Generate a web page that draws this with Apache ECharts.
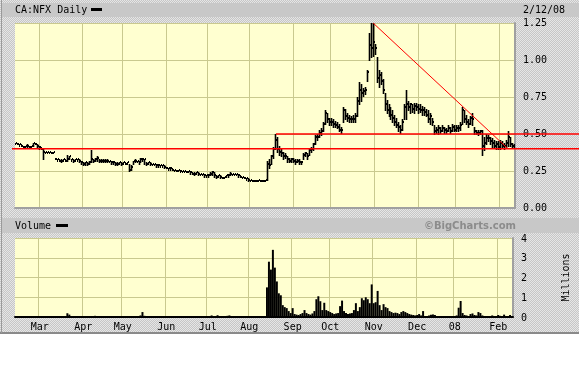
<!DOCTYPE html>
<html><head><meta charset="utf-8">
<script src="https://cdn.jsdelivr.net/npm/echarts/dist/echarts.min.js"></script>
<style>
html,body{margin:0;padding:0;background:#fff;}
#wrap{position:relative;width:579px;height:384px;}
#bg{position:absolute;left:0;top:0;width:579px;height:334px;
 background-color:#d6d6d6;
 background-image:conic-gradient(#c6c6c6 25%, #e6e6e6 0 50%, #c6c6c6 0 75%, #e6e6e6 0);
 background-size:2px 2px;}
#c{position:absolute;left:0;top:0;width:579px;height:384px;}
</style>
</head><body><div id="wrap"><div id="bg"></div><div id="c"></div></div>
<script>
// ---- data ----
const holidays = ['2007-04-06','2007-05-21','2007-07-02','2007-08-06','2007-09-03','2007-10-08','2007-12-25','2007-12-26','2008-01-01'];
const monthNames = {'01':'08','02':'Feb','03':'Mar','04':'Apr','05':'May','06':'Jun','07':'Jul','08':'Aug','09':'Sep','10':'Oct','11':'Nov','12':'Dec'};
const priceTicks = [0, 0.25, 0.5, 0.75, 1.0, 1.25];
const volumeTicks = [0, 1, 2, 3, 4];

const close = [
 0.44,0.43,0.43,0.42,0.41,0.42,0.42,0.41,0.42,0.44,0.43,0.42,
 0.41,0.40,0.38,0.38,0.38,0.38,0.37,0.38,0.33,0.33,0.32,0.32,0.33,0.32,0.33,0.35,0.33,0.32,0.33,0.33,0.32,0.31,
 0.30,0.31,0.30,0.31,0.33,0.32,0.33,0.34,0.32,0.32,0.32,0.32,0.32,0.32,0.31,0.31,0.30,0.30,0.31,0.30,
 0.31,0.30,0.31,0.26,0.28,0.32,0.32,0.32,0.31,0.33,0.33,0.33,0.30,0.31,0.30,0.30,0.30,0.29,0.29,0.29,0.29,0.28,
 0.27,0.27,0.27,0.26,0.26,0.25,0.26,0.25,0.25,0.25,0.24,0.25,0.24,0.23,0.23,0.24,0.23,0.23,0.23,0.22,0.22,
 0.22,0.23,0.24,0.22,0.21,0.22,0.21,0.20,0.21,0.22,0.22,0.23,0.23,0.23,0.23,0.22,0.21,0.21,0.20,0.20,0.19,
 0.19,0.18,0.18,0.18,0.19,0.18,0.18,0.18,0.19,0.30,0.29,0.35,0.40,0.46,0.40,0.38,0.37,0.35,0.35,0.33,0.32,0.33,
 0.32,0.31,0.32,0.31,0.31,0.36,0.37,0.35,0.39,0.40,0.43,0.48,0.48,0.51,0.52,0.57,0.64,0.60,0.58,
 0.58,0.57,0.56,0.55,0.53,0.53,0.66,0.62,0.61,0.60,0.60,0.60,0.62,0.72,0.80,0.78,0.79,0.80,0.92,1.10,1.08,1.12,
 1.08,0.88,0.90,0.86,0.80,0.70,0.66,0.64,0.63,0.61,0.58,0.56,0.55,0.53,0.58,0.68,0.70,0.68,0.70,0.67,0.69,0.68,
 0.67,0.66,0.66,0.65,0.63,0.60,0.62,0.58,0.52,0.53,0.54,0.52,0.54,0.53,0.52,0.54,0.52,0.55,0.53,
 0.54,0.54,0.56,0.66,0.60,0.58,0.57,0.61,0.60,0.52,0.51,0.51,0.52,0.42,0.44,0.47,0.47,0.45,0.44,0.42,0.43,0.41,
 0.44,0.42,0.42,0.44,0.48,0.43,0.42,0.42
];
const high = [
 0.44,0.44,0.43,0.43,0.42,0.42,0.43,0.42,0.42,0.44,0.44,0.43,
 0.42,0.41,0.40,0.38,0.38,0.38,0.38,0.38,0.34,0.33,0.33,0.33,0.33,0.33,0.36,0.35,0.33,0.33,0.33,0.33,0.33,0.32,
 0.31,0.31,0.31,0.32,0.39,0.33,0.34,0.35,0.33,0.33,0.33,0.33,0.33,0.32,0.32,0.32,0.31,0.31,0.31,0.31,
 0.31,0.31,0.31,0.30,0.29,0.32,0.33,0.32,0.32,0.34,0.34,0.33,0.31,0.31,0.31,0.30,0.30,0.30,0.30,0.29,0.29,0.29,
 0.28,0.27,0.28,0.27,0.26,0.26,0.26,0.26,0.25,0.25,0.25,0.25,0.25,0.24,0.24,0.24,0.24,0.23,0.23,0.23,0.22,
 0.23,0.24,0.25,0.24,0.22,0.22,0.22,0.21,0.21,0.22,0.23,0.24,0.23,0.23,0.23,0.23,0.22,0.21,0.21,0.20,0.20,
 0.19,0.19,0.19,0.19,0.19,0.19,0.19,0.19,0.19,0.32,0.33,0.36,0.41,0.50,0.48,0.42,0.40,0.38,0.37,0.35,0.34,0.34,
 0.34,0.33,0.33,0.33,0.32,0.37,0.38,0.37,0.40,0.41,0.44,0.49,0.50,0.53,0.54,0.58,0.66,0.64,0.61,
 0.61,0.60,0.59,0.58,0.57,0.55,0.68,0.67,0.64,0.63,0.62,0.63,0.64,0.75,0.85,0.84,0.81,0.82,0.93,1.18,1.25,1.25,
 1.11,1.02,0.93,0.92,0.87,0.78,0.73,0.70,0.68,0.66,0.63,0.61,0.58,0.56,0.60,0.70,0.80,0.72,0.71,0.70,0.71,0.71,
 0.70,0.70,0.69,0.68,0.67,0.66,0.64,0.61,0.56,0.55,0.56,0.55,0.56,0.55,0.54,0.56,0.55,0.57,0.56,
 0.56,0.56,0.58,0.68,0.66,0.63,0.60,0.62,0.64,0.55,0.53,0.53,0.53,0.53,0.48,0.50,0.49,0.48,0.47,0.46,0.45,0.45,
 0.46,0.45,0.44,0.46,0.52,0.48,0.44,0.43
];
const low = [
 0.43,0.43,0.42,0.42,0.41,0.41,0.41,0.41,0.41,0.42,0.43,0.41,
 0.40,0.40,0.33,0.37,0.37,0.37,0.37,0.37,0.33,0.32,0.32,0.31,0.32,0.32,0.32,0.33,0.32,0.31,0.32,0.32,0.31,0.30,
 0.29,0.29,0.29,0.30,0.31,0.31,0.32,0.32,0.31,0.31,0.31,0.31,0.31,0.31,0.30,0.30,0.29,0.29,0.30,0.29,
 0.30,0.30,0.30,0.25,0.26,0.30,0.31,0.31,0.30,0.31,0.32,0.30,0.29,0.30,0.29,0.29,0.29,0.28,0.28,0.28,0.28,0.27,
 0.27,0.26,0.26,0.26,0.25,0.25,0.25,0.24,0.24,0.24,0.24,0.24,0.23,0.23,0.22,0.23,0.22,0.22,0.22,0.21,0.21,
 0.21,0.22,0.22,0.21,0.20,0.21,0.20,0.20,0.20,0.21,0.21,0.22,0.22,0.22,0.22,0.21,0.21,0.20,0.20,0.19,0.18,
 0.18,0.18,0.18,0.18,0.18,0.18,0.18,0.18,0.18,0.19,0.27,0.30,0.34,0.40,0.38,0.36,0.35,0.33,0.34,0.31,0.31,0.31,
 0.31,0.30,0.31,0.30,0.30,0.33,0.35,0.33,0.36,0.38,0.39,0.43,0.46,0.48,0.49,0.52,0.57,0.58,0.56,
 0.56,0.55,0.55,0.54,0.52,0.51,0.58,0.60,0.59,0.58,0.58,0.58,0.58,0.62,0.70,0.72,0.76,0.77,0.86,1.00,1.02,1.03,
 1.04,0.85,0.82,0.84,0.78,0.66,0.64,0.62,0.60,0.58,0.56,0.55,0.52,0.51,0.53,0.60,0.60,0.66,0.64,0.65,0.64,0.66,
 0.64,0.65,0.63,0.63,0.62,0.58,0.57,0.56,0.50,0.51,0.50,0.51,0.52,0.51,0.51,0.52,0.51,0.52,0.52,
 0.52,0.52,0.53,0.57,0.58,0.57,0.55,0.57,0.56,0.50,0.50,0.49,0.50,0.36,0.39,0.43,0.45,0.43,0.41,0.41,0.40,0.40,
 0.40,0.41,0.40,0.41,0.42,0.42,0.41,0.41
];
const volume = [
 0.03,0.02,0.02,0.01,0.03,0.02,0.01,0.02,0.04,0.02,0.01,0.02,
 0.02,0.01,0.04,0.02,0.01,0.02,0.01,0.02,0.05,0.01,0.02,0.05,0.02,0.01,0.19,0.12,0.03,0.02,0.01,0.02,0.01,0.02,
 0.01,0.02,0.01,0.02,0.03,0.01,0.06,0.02,0.01,0.01,0.02,0.01,0.01,0.02,0.04,0.01,0.01,0.02,0.01,0.01,
 0.02,0.01,0.02,0.03,0.02,0.01,0.01,0.02,0.02,0.08,0.25,0.06,0.02,0.01,0.01,0.02,0.01,0.01,0.02,0.01,0.01,0.02,
 0.01,0.01,0.02,0.01,0.01,0.01,0.02,0.01,0.01,0.03,0.01,0.01,0.02,0.01,0.01,0.01,0.03,0.02,0.01,0.01,0.02,
 0.01,0.04,0.08,0.03,0.02,0.09,0.04,0.02,0.01,0.02,0.06,0.08,0.03,0.01,0.02,0.01,0.01,0.02,0.05,0.02,0.01,
 0.02,0.01,0.05,0.02,0.01,0.01,0.02,0.03,0.05,1.5,2.8,2.4,3.4,2.5,1.8,1.2,1.1,0.6,0.5,0.45,0.3,0.2,
 0.45,0.15,0.12,0.1,0.15,0.2,0.35,0.2,0.15,0.12,0.18,0.3,0.9,1.05,0.8,0.35,0.72,0.35,0.3,
 0.25,0.2,0.15,0.18,0.2,0.55,0.83,0.3,0.2,0.15,0.18,0.2,0.35,0.7,0.3,0.5,0.95,0.85,1.0,0.9,0.7,1.65,
 0.7,0.75,1.32,0.6,0.35,0.65,0.5,0.45,0.3,0.25,0.2,0.22,0.2,0.15,0.25,0.3,0.25,0.2,0.15,0.12,0.1,0.08,
 0.1,0.15,0.08,0.3,0.05,0.05,0.08,0.12,0.13,0.1,0.05,0.04,0.05,0.03,0.04,0.03,0.02,0.03,0.04,
 0.05,0.08,0.47,0.81,0.2,0.1,0.08,0.05,0.15,0.18,0.1,0.08,0.25,0.2,0.08,0.05,0.05,0.04,0.05,0.08,0.05,0.04,
 0.1,0.06,0.04,0.12,0.05,0.04,0.1,0.04
];
// annotation lines drawn on the chart (day index, price)
const trendFrom = [180, 1.25];
const trendTo = [248, 0.40];
const supportLevel = 0.40;
const resistanceLevel = 0.50;
const resistanceFromDay = 131;

// ---- trading-day categories ----
const dates = [];
for (let t = Date.UTC(2007,1,13); t <= Date.UTC(2008,1,12); t += 86400000) {
  const d = new Date(t), wd = d.getUTCDay();
  if (wd === 0 || wd === 6) continue;
  const s = d.toISOString().slice(0,10);
  if (holidays.indexOf(s) >= 0) continue;
  dates.push(s);
}
const n = Math.min(dates.length, close.length);
const cats = dates.slice(0, n);
const monthStart = cats.map((d,i) => i > 0 && d.slice(5,7) !== cats[i-1].slice(5,7));

const ohlc = [];
for (let i = 0; i < n; i++) ohlc.push([i, high[i], low[i], close[i], i > 0 ? close[i-1] : close[i]]);

const MONO = '"DejaVu Sans Mono", monospace';
const GRID_C = '#c9c98f';

function renderOHLC(params, api) {
  const i = api.value(0);
  const pH = api.coord([i, api.value(1)]);
  const pL = api.coord([i, api.value(2)]);
  const pC = api.coord([i, api.value(3)]);
  const pO = api.coord([i, api.value(4)]);
  const x = Math.round(pH[0] - 0.5);
  const yH = Math.round(pH[1]), yL = Math.round(pL[1]);
  const st = { fill: '#000' };
  const tall = yL - yH + 1;
  return { type: 'group', children: [
    { type: 'rect', shape: { x: tall > 3 ? x - 0.3 : x, y: yH, width: tall > 3 ? 1.6 : 1, height: Math.max(2, tall) }, style: st },
    { type: 'rect', shape: { x: x - 1, y: Math.round(pO[1]) - 1, width: 1, height: 2 }, style: st },
    { type: 'rect', shape: { x: x + 1, y: Math.round(pC[1]) - 1, width: 1, height: 2 }, style: st }
  ]};
}

const chart = echarts.init(document.getElementById('c'), null, { renderer: 'canvas' });
const catAxisBase = {
  type: 'category', data: cats, boundaryGap: true,
  axisTick: { show: false },
  splitLine: { show: true, interval: (i) => monthStart[i], lineStyle: { color: GRID_C, width: 1 } }
};
chart.setOption({
  animation: false,
  backgroundColor: 'transparent',
  grid: [
    { left: 15, top: 23, width: 500, height: 185, show: true, backgroundColor: '#ffffd0', borderWidth: 0 },
    { left: 15, top: 238, width: 500, height: 79, show: true, backgroundColor: '#ffffd0', borderWidth: 0 }
  ],
  xAxis: [
    Object.assign({}, catAxisBase, { gridIndex: 0,
      axisLine: { show: true, lineStyle: { color: '#a0a0a0', width: 2 } },
      axisLabel: { show: false } }),
    Object.assign({}, catAxisBase, { gridIndex: 1,
      axisLine: { show: true, lineStyle: { color: '#000', width: 2 } },
      axisLabel: { show: true, interval: (i) => monthStart[i], margin: 5,
        fontFamily: MONO, fontSize: 10, color: '#000',
        formatter: (v) => monthNames[v.slice(5,7)] } })
  ],
  yAxis: [
    { type: 'value', gridIndex: 0, position: 'right', min: priceTicks[0], max: priceTicks[priceTicks.length-1],
      interval: priceTicks[1] - priceTicks[0],
      axisLine: { show: true, lineStyle: { color: '#a0a0a0', width: 2 } }, axisTick: { show: false },
      axisLabel: { margin: 8, fontFamily: MONO, fontSize: 10, color: '#000', formatter: (v) => v.toFixed(2) },
      splitLine: { show: true, lineStyle: { color: GRID_C, width: 1 } } },
    { type: 'value', gridIndex: 1, position: 'right', min: volumeTicks[0], max: volumeTicks[volumeTicks.length-1],
      interval: volumeTicks[1] - volumeTicks[0],
      axisLine: { show: true, lineStyle: { color: '#a0a0a0', width: 2 } }, axisTick: { show: false },
      axisLabel: { margin: 8, fontFamily: MONO, fontSize: 10, color: '#000', verticalAlign: 'top', padding: [-4, 0, 0, 0] },
      splitLine: { show: true, lineStyle: { color: GRID_C, width: 1 } },
      name: 'Millions', nameLocation: 'middle', nameRotate: 90, nameGap: 48,
      nameTextStyle: { fontFamily: MONO, fontSize: 10, color: '#000' } }
  ],
  series: [
    { type: 'custom', xAxisIndex: 0, yAxisIndex: 0, renderItem: renderOHLC, data: ohlc,
      encode: { x: 0, y: [1, 2] }, clip: true, z: 5 },
    { type: 'bar', xAxisIndex: 1, yAxisIndex: 1, data: volume.slice(0, n),
      barWidth: '100%', barCategoryGap: '0%', itemStyle: { color: '#000' }, z: 5 }
  ]
});

// decoration + annotation lines positioned through the chart's own scales
const ySup = chart.convertToPixel({ yAxisIndex: 0 }, supportLevel);
const yRes = chart.convertToPixel({ yAxisIndex: 0 }, resistanceLevel);
const xRes = chart.convertToPixel({ xAxisIndex: 0 }, resistanceFromDay);
const pT1 = chart.convertToPixel({ seriesIndex: 0 }, trendFrom);
const pT2 = chart.convertToPixel({ seriesIndex: 0 }, trendTo);
const RED = '#ff0000';
chart.setOption({
  graphic: [
    { type: 'rect', shape: { x: 0, y: 335, width: 579, height: 49 }, style: { fill: '#fff' }, silent: true },
    { type: 'rect', shape: { x: 0, y: 332, width: 579, height: 2 }, style: { fill: '#8a8a8a' }, silent: true },
    { type: 'rect', shape: { x: 1, y: 0, width: 1, height: 333 }, style: { fill: '#9a9a9a' }, silent: true },
    { type: 'rect', shape: { x: 2, y: 3, width: 577, height: 14 }, style: { fill: '#c8c8c8' }, silent: true },
    { type: 'rect', shape: { x: 2, y: 218, width: 577, height: 15 }, style: { fill: '#c8c8c8' }, silent: true },
    { type: 'text', x: 15, y: 10, style: { text: 'CA:NFX Daily', font: '10px ' + MONO, fill: '#000', verticalAlign: 'middle' } },
    { type: 'rect', shape: { x: 91, y: 8, width: 11, height: 3 }, style: { fill: '#000' } },
    { type: 'text', x: 523, y: 10, style: { text: '2/12/08', font: '10px ' + MONO, fill: '#000', verticalAlign: 'middle' } },
    { type: 'text', x: 15, y: 226, style: { text: 'Volume', font: '10px ' + MONO, fill: '#000', verticalAlign: 'middle' } },
    { type: 'rect', shape: { x: 56, y: 224, width: 12, height: 3 }, style: { fill: '#000' } },
    { type: 'text', x: 516, y: 226, style: { text: '\u00A9BigCharts.com', font: 'bold 10px "DejaVu Sans", sans-serif', fill: '#8c8c8c', align: 'right', verticalAlign: 'middle' } },
    { type: 'line', z: 100, shape: { x1: 12, y1: ySup, x2: 579, y2: ySup }, style: { stroke: RED, lineWidth: 1.5 } },
    { type: 'line', z: 100, shape: { x1: xRes, y1: yRes, x2: 579, y2: yRes }, style: { stroke: RED, lineWidth: 1.5 } },
    { type: 'line', z: 100, shape: { x1: pT1[0], y1: pT1[1], x2: pT2[0], y2: pT2[1] }, style: { stroke: RED, lineWidth: 1 } }
  ]
});
</script></body></html>
